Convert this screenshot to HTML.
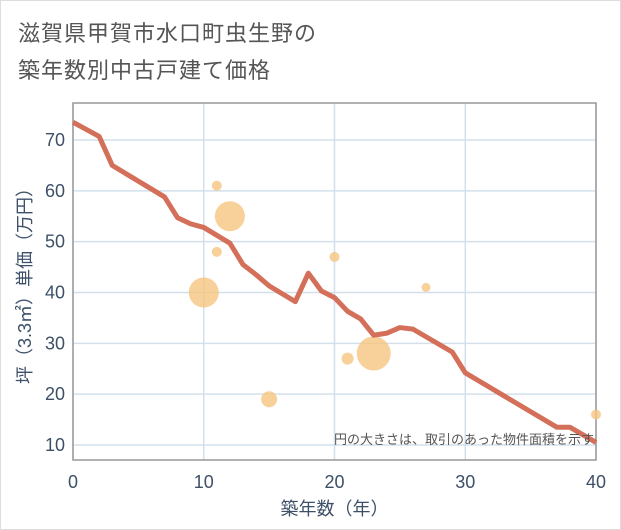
<!DOCTYPE html>
<html><head><meta charset="utf-8"><style>
body{margin:0;background:#fff;font-family:"Liberation Sans","Noto Sans CJK JP",sans-serif;}
#wrap{position:relative;width:619px;height:528px;border:1px solid #ddd;}
.t{position:absolute;left:17px;color:#555;font-size:22px;letter-spacing:1px}
</style></head><body>
<div id="wrap">
<div class="t" style="top:15px">滋賀県甲賀市水口町虫生野の</div>
<div class="t" style="top:52px">築年数別中古戸建て価格</div>
<svg id="c" width="621" height="530" style="position:absolute;left:-1px;top:-1px"></svg>
</div>
<script>
const lineYears=[0,2,3,7,8,9,10,12,13,14,15,17,18,19,20,21,22,23,24,25,26,29,30,37,38,40];
const lineValues=[73.5,70.7,65,58.8,54.7,53.5,52.8,49.7,45.5,43.5,41.3,38.2,43.8,40.3,39,36.3,34.8,31.6,32,33.1,32.8,28.3,24.2,13.5,13.5,10.5];
const bubbleYears=[11,12,11,10,15,20,21,23,27,40];
const bubbleValues=[61,55,48,40,19,47,27,28,41,16];
const bubbleSizes=[5,15,5,15,8,5,6,17,4.5,5];
const xTicks=[0,10,20,30,40];
const yTicks=[10,20,30,40,50,60,70];
const NS='http://www.w3.org/2000/svg',svg=document.getElementById('c');
const L=73,R=596,T=103,B=460;
const X=v=>L+(R-L)*v/40, Y=v=>445-(v-10)*305/60;
function mk(tag,a,p){const e=document.createElementNS(NS,tag);for(const k in a)e.setAttribute(k,a[k]);(p||svg).appendChild(e);return e;}
for(const t of yTicks){const g=mk('line',{x1:L,x2:R,y1:Y(t),y2:Y(t),stroke:'#d3e0ec','stroke-width':1.5});

const s=mk('text',{x:L-8,y:Y(t)+6,'text-anchor':'end','font-size':18,fill:'#3d5068'});s.textContent=t;
}
for(const t of xTicks){const g=mk('line',{x1:X(t),x2:X(t),y1:T,y2:B,stroke:'#d3e0ec','stroke-width':1.5});

const s=mk('text',{x:X(t),y:488,'text-anchor':'middle','font-size':18,fill:'#3d5068'});s.textContent=t;
}
const ax=mk('rect',{x:L,y:T,width:R-L,height:B-T,fill:'none',stroke:'#999','stroke-width':1.5});

bubbleYears.forEach((yr,i)=>{const c=mk('circle',{cx:X(yr),cy:Y(bubbleValues[i]),r:bubbleSizes[i],fill:'#f5c680','fill-opacity':0.8});
});
const ln=mk('polyline',{points:lineYears.map((y,i)=>X(y)+','+Y(lineValues[i])).join(' '),fill:'none',stroke:'#d4705a','stroke-width':5,'stroke-linejoin':'round'});

const n=mk('text',{x:594,y:444,'text-anchor':'end','font-size':13,fill:'#555'});n.textContent='円の大きさは、取引のあった物件面積を示す';

const xt=mk('text',{x:X(20),y:515,'text-anchor':'middle','font-size':18,fill:'#3d5068'});xt.textContent='築年数（年）';

const yt=mk('text',{x:0,y:0,'text-anchor':'middle','font-size':18,fill:'#3d5068',transform:`translate(31,${(T+B)/2}) rotate(-90)`});yt.textContent='坪（3.3㎡）単価（万円）';

</script>
</body></html>
